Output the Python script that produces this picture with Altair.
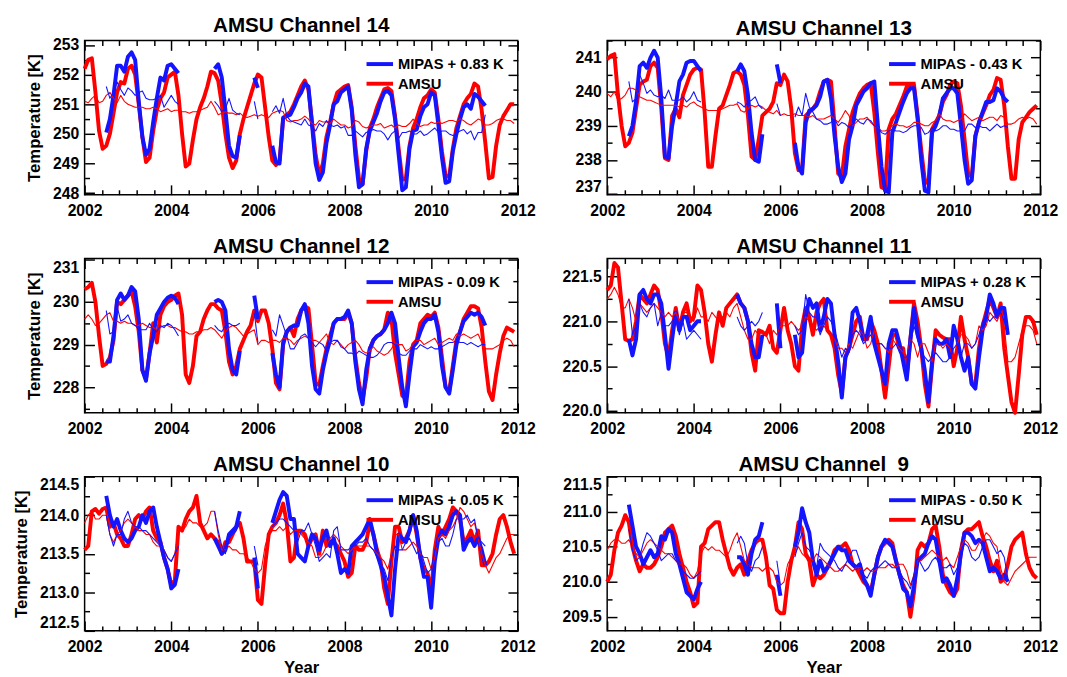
import math
import altair as alt
import pandas as pd

FONT = "Liberation Sans"
BLUE = "#1414ff"
RED = "#ff0000"
START_YEAR = 2002


def gap(n):
    return [None] * n


TITLES = ["AMSU Channel 14", "AMSU Channel 13", "AMSU Channel 12",
          "AMSU Channel 11", "AMSU Channel 10", "AMSU Channel\u00a0 9"]
MIPAS_LABELS = ["MIPAS + 0.83 K", "MIPAS - 0.43 K", "MIPAS - 0.09 K",
                "MIPAS + 0.28 K", "MIPAS + 0.05 K", "MIPAS - 0.50 K"]
AMSU_LABEL = "AMSU"
Y_DOMAINS = [[247.95, 253.15], [236.98, 241.5], [227.4, 231.02],
             [219.98, 221.7], [212.5, 214.5], [209.3, 211.5]]
Y_MAJOR = [1, 1, 1, 0.5, 0.5, 0.5]
Y_MINOR = [0.5, 0.5, 0.5, 0.25, 0.25, 0.25]
X_TICKS = [round(2002 + 0.4 * k, 1) for k in range(26)]

# ---------------- Channel 14 ----------------
CH14_AMSU = [
    252.2, 252.5, 252.55, 251.4, 250.1, 249.5, 249.6, 250.0, 250.7, 251.4, 251.75, 251.7,
    252.2, 252.3, 252.0, 251.0, 249.9, 249.05, 249.2, 250.1, 250.8, 251.2, 251.4, 251.9,
    252.0, 252.1, 251.3, 250.0, 248.9, 249.0, 249.8, 250.5, 250.9, 251.2, 251.6, 252.1,
    252.05, 251.8, 251.0, 250.0, 249.2, 248.85, 249.1, 250.0, 250.5, 250.9, 251.3, 251.7,
    252.0, 251.9, 250.9, 249.9, 249.1, 248.95, 249.1, 250.5, 250.65, 250.75, 251.0, 251.3,
    251.6, 251.8, 251.5, 250.4, 249.3, 248.6, 249.0, 249.9, 250.4, 251.0, 251.4, 251.5,
    251.6, 251.65, 250.9, 249.6, 248.5, 248.3, 249.4, 250.2, 250.5, 250.9, 251.2, 251.5,
    251.55, 251.45, 250.6, 249.5, 248.45, 248.5, 249.6, 250.2, 250.5, 250.9, 251.2, 251.3,
    251.5, 251.4, 250.5, 249.4, 248.6, 248.55, 249.5, 250.2, 250.6, 251.0, 251.2, 251.35,
    251.7, 251.6, 250.8, 249.7, 248.5, 248.55, 249.6, 250.3, 250.6, 250.8, 251.0, 251.0]
CH14_MIPAS = (gap(6) + [
    250.05, 250.5, 251.3, 252.3, 252.3, 252.1, 252.6, 252.75, 252.5, 251.1, 249.9, 249.3,
    249.5, 250.4, 251.2, 251.9, 251.8, 252.3, 252.35, 252.2, 252.05]
    + gap(9) + [252.2, 252.35, 251.9, 250.8, 249.6, 249.25, 249.2, 249.95]
    + gap(3) + [251.9, 251.55] + gap(3) + [
    249.6, 249.05, 249.0, 250.55, 250.6, 250.65, 250.9, 251.2,
    251.4, 251.7, 251.6, 250.3, 249.0, 248.45, 248.7, 249.7, 250.3, 251.0, 251.1, 251.4,
    251.5, 251.6, 250.8, 249.3, 248.2, 248.3, 249.5, 250.1, 250.4, 250.7, 251.1, 251.4,
    251.45, 251.3, 250.5, 249.3, 248.1, 248.2, 249.5, 250.1, 250.15, 250.6, 250.9, 251.0,
    251.4, 251.3, 250.3, 249.2, 248.35, 248.4, 249.4, 250.0, 250.5, 250.9, 251.0, 250.85,
    251.35, 251.25, 251.1, 250.95] + gap(8))
CH14_AMSU_THIN = [
    251.1, 251.05, 251.2, 251.3, 251.05, 251.1, 251.3, 251.4, 251.2, 251.05, 251.3, 251.1,
    251.0, 250.95, 250.9, 250.9, 250.9, 250.85, 250.85, 250.9, 250.85, 250.75, 250.8, 250.85,
    250.75, 250.8, 250.8, 250.75, 250.75, 250.7, 250.75, 250.75, 250.8, 250.85, 250.9, 251.1,
    250.9, 250.65, 250.7, 250.75, 250.7, 250.7, 250.65, 250.7, 250.6, 250.55, 250.6, 250.65,
    250.6, 250.65, 250.6, 250.55, 250.7, 250.75, 250.8, 250.75, 250.45, 250.4, 250.45, 250.45,
    250.5, 250.6, 250.5, 250.35, 250.3, 250.45, 250.4, 250.4, 250.35, 250.5, 250.4, 250.3,
    250.3, 250.2, 250.25, 250.45, 250.4, 250.25, 250.2, 250.25, 250.3, 250.3, 250.35, 250.2,
    250.25, 250.3, 250.2, 250.3, 250.25, 250.25, 250.35, 250.5, 250.35, 250.25, 250.3, 250.3,
    250.4, 250.35, 250.4, 250.35, 250.4, 250.45, 250.45, 250.4, 250.5, 250.45, 250.35, 250.3,
    250.4, 250.5, 250.45, 250.3, 250.3, 250.35, 250.45, 250.5, 250.5, 250.45, 250.45, 250.35]
CH14_MIPAS_THIN = (gap(6) + [
    251.6, 251.2, 251.4, 251.75, 251.5, 251.3, 251.55, 251.45, 251.3, 251.4, 251.45, 251.2,
    251.15, 251.15, 251.2, 251.3, 250.9, 251.1, 251.3, 251.1, 251.0]
    + gap(9) + [251.1, 250.95, 250.75, 250.85, 251.2, 250.8, 250.7, 250.65]
    + gap(3) + [251.1, 250.5] + gap(3) + [
    250.75, 250.95, 250.7, 251.2, 250.6, 250.45, 250.4, 250.35,
    250.3, 250.5, 250.3, 250.25, 250.1, 250.35, 250.25, 250.45, 250.3, 250.25, 250.3, 250.2,
    250.25, 249.95, 249.95, 250.1, 250.0, 249.9, 250.05, 250.1, 250.15, 250.1, 250.1, 250.0,
    249.8, 250.0, 250.1, 249.85, 250.05, 250.05, 250.1, 250.0, 250.0, 250.1, 249.95, 250.0,
    250.1, 250.2, 250.05, 250.1, 250.1, 250.0, 249.95, 250.0, 250.1, 250.15, 250.0, 250.1,
    249.8, 250.05, 250.05, 250.65] + gap(8))

# ---------------- Channel 13 ----------------
CH13_AMSU = [
    240.95, 241.05, 241.1, 239.9, 239.0, 238.4, 238.5, 238.8, 239.5, 240.2, 240.3, 240.35,
    240.75, 240.85, 240.7, 239.5, 238.05, 238.0, 239.3, 239.5, 239.25, 239.9, 240.2, 240.5,
    240.65, 240.7, 240.65, 239.4, 237.8, 237.8, 238.7, 239.5, 239.6, 239.9, 240.2, 240.55,
    240.6, 240.5, 240.2, 239.3, 238.1, 238.0, 238.6, 239.3, 239.4, 239.5, 239.7, 240.25,
    240.2, 240.5, 240.3, 239.5, 238.2, 237.7, 237.75, 239.3, 239.4, 239.5, 239.65, 240.0,
    240.3, 240.35, 240.3, 239.0, 237.6, 237.5, 238.4, 238.9, 239.4, 239.7, 239.95, 240.1,
    240.2, 240.25, 239.4, 238.2, 237.2, 237.15, 238.9, 239.2, 239.35, 239.6, 239.85, 240.15,
    240.2, 240.2, 239.3, 238.3, 237.4, 237.3, 238.9, 239.1, 239.3, 239.7, 239.9, 240.2,
    240.3, 240.25, 239.6, 238.6, 237.6, 237.5, 238.7, 239.1, 239.35, 239.6, 239.9, 240.05,
    240.4, 240.35, 239.6, 238.4, 237.45, 237.45, 238.6, 239.1, 239.25, 239.4, 239.5, 239.6]
CH13_MIPAS = (gap(6) + [
    238.7, 239.0, 239.7, 240.75, 240.85, 240.7, 241.0, 241.2, 241.0, 239.8, 238.1, 238.05,
    239.0, 239.6, 240.3, 240.5, 240.85, 240.9, 240.9, 240.75, 240.6]
    + gap(9) + [240.6, 240.8, 240.6, 239.9, 238.8, 238.0, 237.95, 238.75]
    + gap(3) + [240.8, 240.25] + gap(3) + [
    238.5, 237.8, 237.6, 239.1, 239.45, 239.5, 239.6, 239.85,
    240.3, 240.35, 239.8, 238.7, 237.8, 237.35, 237.6, 238.6, 239.0, 239.6, 239.8, 240.0,
    240.1, 240.25, 240.3, 239.0, 237.8, 237.1, 237.05, 238.8, 239.1, 239.4, 239.7, 239.95,
    240.1, 240.1, 239.2, 238.0, 237.1, 237.05, 238.8, 239.0, 239.3, 239.8, 239.95, 240.1,
    240.1, 239.95, 239.0, 238.0, 237.3, 237.4, 238.7, 239.1, 239.4, 239.7, 239.7, 239.75,
    240.1, 240.0, 239.8, 239.7] + gap(8))
CH13_AMSU_THIN = [
    239.95, 239.85, 240.0, 239.75, 239.8, 239.9, 240.1, 240.1, 240.05, 239.85, 239.8, 239.75,
    239.75, 239.7, 239.65, 239.6, 239.6, 239.6, 239.6, 239.6, 239.55, 239.6, 239.55, 239.65,
    239.7, 239.6, 239.55, 239.5, 239.45, 239.45, 239.45, 239.45, 239.5, 239.55, 239.6, 239.6,
    239.65, 239.45, 239.4, 239.5, 239.6, 239.55, 239.6, 239.55, 239.45, 239.4, 239.35, 239.45,
    239.3, 239.35, 239.3, 239.3, 239.35, 239.3, 239.3, 239.3, 239.25, 239.3, 239.2, 239.2,
    239.2, 239.25, 239.3, 239.2, 239.1, 239.25, 239.45, 239.3, 239.0, 239.1, 239.2, 239.2,
    239.25, 239.1, 239.0, 238.95, 238.85, 238.85, 238.9, 239.0, 239.05, 239.0, 239.0, 238.95,
    239.0, 239.1, 239.1, 239.05, 239.0, 239.0, 239.1, 239.15, 239.35, 239.2, 239.15, 239.15,
    239.1, 239.15, 239.2, 239.35, 239.25, 239.15, 239.2, 239.25, 239.15, 239.2, 239.25, 239.25,
    239.15, 239.3, 239.25, 239.05, 239.05, 239.1, 239.2, 239.25, 239.2, 239.25, 239.2, 239.05]
CH13_MIPAS_THIN = (gap(6) + [
    240.3, 239.7, 239.8, 240.5, 240.25, 239.95, 240.05, 239.9, 239.85, 239.9, 239.8, 240.05,
    239.75, 239.75, 239.75, 239.85, 239.7, 239.8, 240.0, 239.75, 239.7]
    + gap(9) + [239.7, 239.65, 239.55, 239.7, 239.75, 239.85, 239.6, 239.5]
    + gap(3) + [239.65, 239.3] + gap(3) + [
    239.25, 239.55, 239.3, 239.95, 239.55, 239.4, 239.2, 239.15,
    239.05, 239.05, 239.1, 239.2, 239.0, 239.1, 239.05, 238.95, 239.05, 239.2, 239.1, 239.05,
    239.2, 239.15, 239.0, 238.95, 238.8, 238.75, 238.85, 238.9, 238.85, 238.85, 238.8, 238.85,
    238.95, 239.0, 239.0, 238.95, 238.75, 238.8, 238.95, 238.85, 238.9, 239.0, 239.0, 238.9,
    238.9, 238.85, 238.85, 238.85, 239.05, 239.05, 238.95, 239.0, 238.95, 238.95, 238.85, 238.95,
    239.05, 238.95, 239.0, 238.95] + gap(8))

# ---------------- Channel 12 ----------------
CH12_AMSU = [
    230.3, 230.35, 230.45, 230.0, 229.2, 228.5, 228.55, 228.7, 229.1, 230.0, 229.95, 230.05,
    230.15, 230.25, 229.9, 229.3, 228.4, 228.2, 228.8, 229.5, 229.05, 229.7, 229.9, 230.0,
    230.05, 230.15, 230.2, 229.7, 228.3, 228.1, 228.5, 229.2, 229.3, 229.6, 229.8, 229.95,
    229.95, 229.85, 229.8, 229.3, 228.6, 228.3, 228.5, 228.9, 229.1, 229.3, 229.45, 229.8,
    229.55, 229.8, 229.8, 229.5, 228.9, 228.1, 227.95, 229.0, 229.3, 229.4, 229.2, 229.6,
    229.8, 229.9, 229.85, 229.0, 228.1, 228.05, 228.5, 228.9, 229.2, 229.5, 229.6, 229.6,
    229.6, 229.75, 229.5, 228.7, 228.1, 227.7, 228.2, 228.9, 229.1, 229.2, 229.25, 229.35,
    229.75, 229.6, 228.8, 228.3, 227.8, 227.75, 228.6, 229.0, 229.1, 229.5, 229.6, 229.7,
    229.65, 229.75, 229.4, 228.7, 228.0, 227.9, 228.5, 229.1, 229.3, 229.6, 229.75, 229.9,
    229.9, 229.85, 229.4, 228.6, 227.9, 227.7, 228.3, 228.8, 229.2, 229.4, 229.35, 229.3]
CH12_MIPAS = (gap(6) + [
    228.6, 228.6, 229.2, 230.05, 230.2, 230.05, 230.15, 230.35, 230.25, 229.6, 228.4, 228.15,
    228.8, 229.2, 229.7, 229.85, 230.0, 230.1, 230.15, 230.1, 229.95]
    + gap(9) + [230.0, 230.05, 230.0, 229.8, 228.9, 228.4, 228.3, 228.85]
    + gap(3) + [230.15, 229.6] + gap(3) + [
    228.8, 228.3, 228.0, 229.05, 229.3, 229.4, 229.45, 229.45,
    229.8, 229.95, 229.5, 228.5, 227.95, 227.85, 228.4, 228.8, 229.1, 229.5, 229.6, 229.6,
    229.65, 229.8, 229.5, 228.6, 227.95, 227.6, 228.4, 228.9, 229.1, 229.2, 229.25, 229.35,
    229.5, 229.75, 229.5, 228.7, 228.0, 227.55, 228.3, 228.95, 229.05, 229.3, 229.5, 229.6,
    229.6, 229.7, 229.3, 228.5, 228.0, 227.85, 228.4, 229.0, 229.3, 229.55, 229.65, 229.75,
    229.7, 229.75, 229.65, 229.45] + gap(8))
CH12_AMSU_THIN = [
    229.6, 229.7, 229.6, 229.45, 229.5, 229.6, 229.7, 229.75, 229.55, 229.55, 229.5, 229.55,
    229.5, 229.5, 229.45, 229.45, 229.5, 229.45, 229.4, 229.4, 229.35, 229.4, 229.45, 229.45,
    229.4, 229.4, 229.35, 229.3, 229.3, 229.25, 229.25, 229.3, 229.3, 229.35, 229.35, 229.4,
    229.35, 229.25, 229.15, 229.3, 229.4, 229.45, 229.4, 229.3, 229.2, 229.25, 229.3, 229.35,
    229.0, 229.1, 229.1, 229.05, 229.1, 229.1, 229.05, 229.15, 229.15, 229.1, 229.0, 229.1,
    229.15, 229.2, 229.15, 229.1, 229.1, 229.05, 229.15, 229.25, 229.05, 229.0, 229.1, 229.0,
    228.9, 229.0, 229.05, 229.1, 229.0, 228.85, 228.8, 228.85, 228.95, 228.85, 228.8, 228.75,
    228.8, 228.9, 229.05, 229.0, 229.0, 228.85, 228.9, 229.0, 229.1, 229.1, 229.0, 229.05,
    229.1, 229.15, 229.0, 229.05, 229.1, 229.15, 229.1, 229.25, 229.2, 229.25, 229.2, 229.15,
    229.2, 229.25, 229.05, 228.9, 228.9, 228.9, 228.95, 229.0, 229.1, 229.15, 229.1, 228.95]
CH12_MIPAS_THIN = (gap(6) + [
    229.8, 229.25, 229.3, 229.9, 229.55, 229.6, 229.7, 229.5, 229.45, 229.35, 229.35, 229.35,
    229.5, 229.35, 229.3, 229.45, 229.4, 229.5, 229.45, 229.35, 229.2]
    + gap(9) + [229.45, 229.35, 229.3, 229.45, 229.5, 229.45, 229.45, 229.5]
    + gap(3) + [229.75, 229.05] + gap(3) + [
    229.35, 229.2, 229.7, 229.45, 229.2, 228.9, 228.9, 229.05,
    229.2, 229.25, 229.15, 229.05, 228.95, 229.05, 229.0, 228.85, 229.05, 229.1, 229.1, 228.95,
    228.9, 228.8, 228.8, 228.75, 228.85, 228.8, 228.75, 228.7, 228.7, 228.75, 228.85, 229.0,
    229.05, 229.05, 229.0, 228.8, 228.75, 228.75, 228.85, 228.9, 228.9, 229.0, 228.95, 228.9,
    228.95, 228.9, 228.9, 228.95, 229.0, 229.05, 229.05, 229.1, 229.05, 229.05, 229.0, 229.05,
    229.0, 228.95, 229.0, 229.0] + gap(8))

# ---------------- Channel 11 ----------------
CH11_AMSU = [
    221.35, 221.4, 221.65, 221.6, 221.2, 220.8, 220.78, 220.8, 221.0, 221.3, 221.25, 221.2,
    221.3, 221.4, 221.35, 221.1, 220.75, 220.6, 220.9, 221.15, 220.9, 221.1, 221.2, 221.0,
    221.05, 221.4, 221.35, 221.1, 220.75, 220.55, 220.85, 221.1, 220.95, 221.15, 221.2, 221.25,
    221.3, 221.2, 221.15, 221.0, 220.65, 220.45, 220.9, 220.88, 220.85, 220.95, 220.7, 220.65,
    220.9, 221.15, 220.9, 220.75, 220.5, 220.45, 220.95, 221.15, 221.05, 220.85, 221.1, 221.2,
    221.25, 220.9, 220.85, 220.7, 220.4, 220.2, 220.6, 220.7, 220.85, 221.0, 221.05, 220.8,
    220.8, 221.0, 220.9, 220.75, 220.45, 220.15, 220.5, 220.85, 220.85, 220.7, 220.7, 220.4,
    220.8, 221.2, 221.0, 220.7, 220.3, 220.05, 220.5, 220.9, 220.85, 220.82, 220.8, 220.8,
    220.5, 220.7, 221.05, 220.8, 220.6, 220.3, 220.3, 220.7, 220.95, 221.1, 221.25, 221.15,
    221.05, 221.2, 220.7, 220.4, 220.1, 219.98, 220.4, 220.85, 221.05, 221.05, 221.0, 220.85]
CH11_MIPAS = (gap(6) + [
    220.8, 220.62, 220.8, 221.3, 221.35, 221.25, 221.2, 221.3, 221.3, 221.2, 220.85, 220.47,
    220.8, 221.1, 220.9, 221.05, 221.05, 220.9, 220.95, 221.0, 221.0]
    + gap(9) + [221.3, 221.2, 221.15, 221.0, 220.75, 220.6, 220.6, 220.85]
    + gap(3) + [221.2, 220.7] + gap(3) + [
    220.85, 220.6, 220.65, 221.05, 221.25, 221.15, 221.2, 220.9,
    221.05, 221.25, 221.2, 220.85, 220.55, 220.15, 220.6, 220.7, 221.1, 221.15, 221.0, 220.8,
    220.85, 221.05, 220.75, 220.6, 220.45, 220.3, 220.75, 220.9, 220.9, 220.75, 220.55, 220.35,
    220.8, 221.15, 220.85, 220.7, 220.45, 220.1, 220.55, 220.8, 220.75, 220.75, 220.8, 220.6,
    220.95, 220.8, 220.6, 220.45, 220.6, 220.3, 220.25, 220.6, 220.9, 221.05, 221.3, 221.2,
    221.05, 221.15, 221.15, 220.85] + gap(8))
CH11_AMSU_THIN = [
    221.25, 221.3, 221.38, 221.3, 221.15, 221.15, 221.25, 221.15, 221.0, 221.2, 221.15, 221.1,
    221.15, 221.2, 221.15, 221.1, 221.05, 221.1, 221.05, 221.1, 221.0, 221.1, 221.1, 221.05,
    221.0, 221.15, 221.05, 221.05, 221.0, 221.1, 221.05, 221.0, 221.05, 221.1, 221.05, 221.15,
    221.2, 221.05, 220.9, 220.8, 220.8, 220.9, 220.85, 220.9, 220.85, 220.75, 220.9, 220.85,
    220.95, 220.95, 220.95, 221.0, 220.95, 220.9, 220.95, 221.05, 221.0, 220.95, 220.9, 220.95,
    220.95, 220.9, 220.85, 220.8, 220.7, 220.7, 220.65, 220.75, 220.7, 220.8, 220.9, 220.85,
    220.7, 220.75, 220.9, 220.75, 220.75, 220.7, 220.65, 220.8, 220.75, 220.7, 220.65, 220.6,
    220.8, 220.75, 220.6, 220.75, 220.75, 220.65, 220.55, 220.75, 220.75, 220.7, 220.75, 220.7,
    220.55, 220.75, 220.85, 220.85, 220.8, 220.7, 220.75, 220.95, 220.9, 220.95, 221.1, 221.05,
    221.0, 221.1, 220.95, 220.55, 220.55, 220.6, 220.75, 220.9, 220.95, 220.95, 220.9, 220.75]
CH11_MIPAS_THIN = (gap(6) + [
    221.25, 220.85, 220.95, 221.2, 221.1, 221.05, 221.15, 221.2, 220.95, 221.1, 220.95, 220.95,
    221.0, 221.05, 220.85, 221.0, 220.8, 220.85, 220.9, 220.85, 220.8]
    + gap(9) + [221.05, 220.95, 220.9, 220.95, 221.0, 220.95, 221.0, 221.1]
    + gap(3) + [221.05, 220.85] + gap(3) + [
    220.95, 220.85, 220.9, 221.3, 221.1, 221.05, 221.05, 220.85,
    220.95, 221.05, 221.0, 220.9, 220.75, 220.6, 220.7, 220.65, 220.85, 220.9, 220.85, 220.75,
    220.8, 220.85, 220.75, 220.75, 220.75, 220.7, 220.7, 220.7, 220.75, 220.65, 220.6, 220.6,
    220.75, 220.95, 220.8, 220.65, 220.6, 220.55, 220.6, 220.65, 220.6, 220.55, 220.55, 220.6,
    220.7, 220.75, 220.6, 220.75, 220.75, 220.7, 220.75, 220.85, 221.0, 221.05, 221.0, 221.05,
    221.05, 221.1, 221.0, 220.85] + gap(8))

# ---------------- Channel 10 ----------------
CH10_AMSU = [
    213.55, 213.6, 214.05, 214.08, 214.02, 214.08, 214.1, 213.85, 213.9, 213.75, 213.7, 213.6,
    213.6, 213.75, 213.95, 214.0, 213.95, 214.05, 214.1, 213.8, 213.7, 213.65, 213.45, 213.3,
    213.1, 213.15, 213.85, 213.8, 213.95, 214.05, 214.1, 214.25, 213.9, 213.8, 213.7, 213.75,
    213.7, 213.65, 213.5, 213.65, 213.65, 213.75, 213.85, 213.9, 213.7, 213.4, 213.4, 213.4,
    212.9, 212.85, 213.35, 213.75, 213.85, 213.9, 214.0, 214.15, 213.9, 213.4, 213.45, 213.8,
    213.8, 213.75, 213.6, 213.7, 213.75, 213.5, 213.8, 213.6, 213.65, 213.65, 213.6, 213.5,
    213.4, 213.2, 213.25, 213.6, 213.55, 213.55, 213.65, 213.9, 213.75, 213.55, 213.4, 213.05,
    212.85, 213.4, 213.85, 213.85, 213.65, 213.7, 213.8, 214.0, 213.75, 213.45, 213.3, 213.25,
    213.0, 213.55, 213.85, 213.75, 213.85, 213.95, 214.1, 214.05, 213.95, 213.65, 213.7, 213.8,
    213.65, 213.8, 213.35, 213.35, 213.4, 213.5, 213.75, 213.95, 214.0, 213.85, 213.65, 213.5]
CH10_MIPAS = (gap(6) + [
    214.25, 214.0, 213.85, 213.95, 213.8, 213.7, 213.65, 213.7, 213.8, 213.85, 214.0, 213.9,
    214.05, 214.1, 213.85, 213.65, 213.45, 213.3, 213.05, 213.1, 213.3]
    + gap(9) + [213.7, 213.6, 213.5, 213.55, 213.75, 213.8, 213.85, 214.05]
    + gap(3) + [213.45, 213.05] + gap(3) + [
    213.9, 214.05, 214.2, 214.3, 214.25, 213.95, 213.95, 213.5,
    213.45, 213.4, 213.6, 213.75, 213.7, 213.55, 213.7, 213.8, 213.6, 213.7, 213.5, 213.25,
    213.3, 213.25, 213.6, 213.65, 213.7, 213.75, 213.85, 213.95, 213.75, 213.5, 213.35, 213.2,
    212.95, 212.7, 213.3, 213.75, 213.7, 213.65, 213.8, 214.0, 213.8, 213.45, 213.2, 213.2,
    212.8, 213.4, 213.7, 213.8, 213.75, 213.85, 214.0, 214.05, 214.0, 213.55, 213.65, 213.7,
    213.6, 213.7, 213.55, 213.35] + gap(8))
CH10_AMSU_THIN = [
    213.9, 214.0, 214.05, 213.95, 213.95, 214.0, 214.0, 213.75, 213.65, 213.75, 213.8, 213.9,
    213.95, 213.9, 213.85, 213.8, 213.8, 213.75, 213.75, 213.65, 213.6, 213.6, 213.55, 213.45,
    213.4, 213.5, 213.8, 213.8, 213.85, 213.95, 213.9, 213.9, 213.85, 213.85, 213.9, 214.05,
    214.05, 213.75, 213.55, 213.55, 213.6, 213.55, 213.55, 213.5, 213.5, 213.45, 213.4, 213.3,
    213.25, 213.3, 213.6, 213.75, 213.8, 213.8, 213.85, 213.8, 213.85, 213.75, 213.8, 213.8,
    213.75, 213.7, 213.65, 213.6, 213.45, 213.45, 213.5, 213.6, 213.7, 213.75, 213.7, 213.6,
    213.55, 213.5, 213.55, 213.6, 213.6, 213.6, 213.6, 213.6, 213.55, 213.5, 213.45, 213.4,
    213.3, 213.5, 213.75, 213.75, 213.55, 213.55, 213.6, 213.65, 213.6, 213.5, 213.45, 213.45,
    213.3, 213.45, 213.7, 213.75, 213.7, 213.8, 213.85, 213.95, 214.1, 214.05, 213.95, 213.85,
    213.9, 213.7, 213.5, 213.35, 213.25, 213.35, 213.45, 213.5, 213.6, 213.7, 213.75, 213.75]
CH10_MIPAS_THIN = (gap(6) + [
    214.0, 213.75, 213.6, 213.75, 213.75, 213.95, 214.05, 213.9, 213.85, 213.85, 213.8, 213.8,
    213.75, 213.7, 213.65, 213.6, 213.55, 213.45, 213.4, 213.5, 213.6]
    + gap(9) + [214.05, 213.8, 213.6, 213.5, 213.7, 213.75, 213.8, 213.9]
    + gap(3) + [213.6, 213.35] + gap(3) + [
    213.85, 213.9, 213.95, 213.95, 213.9, 213.85, 213.8, 213.65,
    213.8, 213.8, 213.9, 213.75, 213.6, 213.4, 213.45, 213.5, 213.45, 213.8, 213.85, 213.55,
    213.55, 213.55, 213.6, 213.6, 213.65, 213.65, 213.7, 213.6, 213.55, 213.45, 213.35, 213.3,
    213.15, 213.45, 213.6, 213.55, 213.55, 213.65, 213.7, 213.6, 213.5, 213.55, 213.4, 213.25,
    213.3, 213.55, 213.65, 213.7, 213.6, 213.6, 213.75, 213.95, 213.95, 213.95, 214.0, 213.9,
    213.95, 213.7, 213.65, 213.6] + gap(8))

# ---------------- Channel 9 ----------------
CH9_AMSU = [
    210.0, 210.1, 210.45, 210.7, 210.8, 210.95, 210.85, 210.5, 210.3, 210.15, 210.25, 210.2,
    210.2, 210.25, 210.35, 210.5, 210.7, 210.75, 210.8, 210.65, 210.4, 210.2, 210.0, 209.85,
    209.65, 209.7, 210.5, 210.55, 210.75, 210.8, 210.85, 210.85, 210.6, 210.4, 210.2, 210.1,
    210.2, 210.25, 210.1, 210.3, 210.45, 210.55, 210.6, 210.6, 210.35, 209.95, 209.9, 209.6,
    209.55, 209.55, 210.0, 210.3, 210.5, 210.85, 210.75, 210.4, 210.3, 209.95, 210.1, 210.05,
    210.1, 210.2, 210.3, 210.45, 210.5, 210.5, 210.55, 210.45, 210.25, 210.2, 210.1, 210.0,
    209.95, 209.85, 210.1, 210.35, 210.5, 210.55, 210.6, 210.55, 210.3, 210.1, 209.95, 209.85,
    209.5, 209.85, 210.45, 210.55, 210.5, 210.55, 210.75, 210.8, 210.5, 210.1, 209.95, 209.85,
    209.8, 209.9, 210.45, 210.7, 210.75, 210.75, 210.8, 210.85, 210.65, 210.5, 210.3, 210.15,
    210.3, 210.0, 210.05, 210.25, 210.5, 210.6, 210.65, 210.7, 210.4, 210.2, 210.1, 210.05]
CH9_MIPAS = (gap(6) + [
    211.1, 210.8, 210.5, 210.4, 210.25, 210.35, 210.45, 210.35, 210.4, 210.65, 210.6, 210.75,
    210.7, 210.4, 210.25, 210.05, 209.85, 209.8, 209.75, 209.9, 210.0]
    + gap(9) + [210.35, 210.35, 210.25, 210.1, 210.4, 210.6, 210.65, 210.85]
    + gap(3) + [210.1, 209.8] + gap(3) + [
    210.5, 210.7, 211.05, 210.85, 210.7, 210.3, 210.1, 210.3,
    210.15, 210.2, 210.3, 210.4, 210.5, 210.45, 210.45, 210.3, 210.25, 210.2, 210.25, 210.05,
    209.95, 209.8, 210.1, 210.35, 210.5, 210.6, 210.55, 210.5, 210.3, 210.1, 209.9, 209.85,
    209.65, 209.95, 210.3, 210.35, 210.4, 210.55, 210.65, 210.6, 210.3, 210.0, 210.05, 209.95,
    209.8, 210.05, 210.4, 210.7, 210.7, 210.65, 210.55, 210.6, 210.55, 210.35, 210.15, 210.2,
    210.15, 210.05, 210.1, 210.0] + gap(8))
CH9_AMSU_THIN = [
    210.45, 210.55, 210.6, 210.6, 210.55, 210.55, 210.6, 210.5, 210.4, 210.35, 210.45, 210.55,
    210.6, 210.55, 210.5, 210.45, 210.4, 210.4, 210.35, 210.3, 210.25, 210.25, 210.2, 210.1,
    210.05, 210.15, 210.4, 210.5, 210.45, 210.5, 210.45, 210.45, 210.4, 210.35, 210.45, 210.6,
    210.7, 210.5, 210.3, 210.25, 210.2, 210.2, 210.2, 210.15, 210.2, 210.2, 210.15, 210.0,
    209.95, 210.0, 210.25, 210.35, 210.4, 210.5, 210.4, 210.35, 210.35, 210.3, 210.4, 210.35,
    210.3, 210.25, 210.2, 210.15, 210.15, 210.2, 210.25, 210.2, 210.15, 210.2, 210.2, 210.15,
    210.2, 210.15, 210.15, 210.2, 210.2, 210.2, 210.25, 210.25, 210.2, 210.25, 210.25, 210.15,
    209.95, 210.1, 210.3, 210.3, 210.35, 210.4, 210.45, 210.4, 210.35, 210.3, 210.35, 210.25,
    210.2, 210.35, 210.5, 210.6, 210.55, 210.45, 210.45, 210.55, 210.6, 210.7, 210.65, 210.55,
    210.5, 210.2, 210.0, 209.95, 210.05, 210.15, 210.2, 210.25, 210.3, 210.35, 210.35, 210.35]
CH9_MIPAS_THIN = (gap(6) + [
    210.75, 210.45, 210.3, 210.35, 210.55, 210.7, 210.65, 210.55, 210.45, 210.3, 210.35, 210.4,
    210.4, 210.3, 210.25, 210.15, 210.1, 210.05, 210.05, 210.1, 210.15]
    + gap(9) + [210.55, 210.65, 210.55, 210.25, 210.15, 210.3, 210.35, 210.5]
    + gap(3) + [210.3, 209.95] + gap(3) + [
    210.35, 210.55, 210.7, 210.5, 210.45, 210.35, 210.2, 210.55,
    210.45, 210.4, 210.35, 210.3, 210.2, 210.15, 210.25, 210.35, 210.45, 210.45, 210.3, 210.1,
    210.05, 210.15, 210.2, 210.2, 210.25, 210.3, 210.25, 210.2, 210.2, 210.15, 210.05, 210.0,
    209.9, 210.1, 210.35, 210.25, 210.15, 210.2, 210.3, 210.35, 210.25, 210.2, 210.2, 210.25,
    210.1, 210.2, 210.35, 210.55, 210.5, 210.35, 210.3, 210.35, 210.5, 210.6, 210.6, 210.5,
    210.4, 210.45, 210.35, 210.05] + gap(8))

PANELS = [
    (CH14_AMSU, CH14_MIPAS, CH14_AMSU_THIN, CH14_MIPAS_THIN),
    (CH13_AMSU, CH13_MIPAS, CH13_AMSU_THIN, CH13_MIPAS_THIN),
    (CH12_AMSU, CH12_MIPAS, CH12_AMSU_THIN, CH12_MIPAS_THIN),
    (CH11_AMSU, CH11_MIPAS, CH11_AMSU_THIN, CH11_MIPAS_THIN),
    (CH10_AMSU, CH10_MIPAS, CH10_AMSU_THIN, CH10_MIPAS_THIN),
    (CH9_AMSU, CH9_MIPAS, CH9_AMSU_THIN, CH9_MIPAS_THIN),
]
for p in PANELS:
    for s in p:
        assert len(s) == 120, len(s)


def to_frame(series):
    rows = []
    for name, vals in series:
        seg = 0
        broken = True
        for i, v in enumerate(vals):
            if v is None:
                broken = True
                continue
            if broken:
                seg += 1
                broken = False
            rows.append({"t": START_YEAR + i / 12.0, "value": v,
                         "series": name, "seg": seg})
    return pd.DataFrame(rows)


def make_panel(k):
    amsu, mipas, amsu_thin, mipas_thin = PANELS[k]
    df = to_frame([("amsu", amsu), ("mipas", mipas),
                   ("amsu_thin", amsu_thin), ("mipas_thin", mipas_thin)])
    lo, hi = Y_DOMAINS[k]
    maj, mnr = Y_MAJOR[k], Y_MINOR[k]
    yvals = [round(j * mnr, 4) for j in
             range(math.ceil(lo / mnr - 1e-9), math.floor(hi / mnr + 1e-9) + 1)]
    fmt = "d" if maj >= 1 else ".1f"
    ymaj = f"abs(datum.value / {maj} - round(datum.value / {maj})) < 0.001"
    xmaj = "abs(datum.value / 2 - round(datum.value / 2)) < 0.001"
    ytick = {"expr": f"{ymaj} ? -10 : -5"}
    xtick = {"expr": f"{xmaj} ? -10 : -5"}
    left = (k % 2 == 0)
    bottom = (k >= 4)

    xscale = alt.Scale(domain=[2002, 2012], nice=False, zero=False)
    yscale = alt.Scale(domain=[lo, hi], nice=False, zero=False)

    x_main = alt.Axis(values=X_TICKS, tickSize=xtick, labelPadding=18,
                      labelExpr=f"{xmaj} ? format(datum.value, 'd') : ''",
                      labelFlush=False, labelOverlap=False, domain=False, grid=False,
                      title="Year" if bottom else None, titlePadding=0)
    y_main = alt.Axis(values=yvals, tickSize=ytick, labelPadding=16,
                      labelExpr=f"{ymaj} ? format(datum.value, '{fmt}') : ''",
                      labelFlush=True, labelOverlap=False, domain=False, grid=False,
                      title="Temperature [K]" if left else None, titlePadding=9)
    x_top = alt.Axis(orient="top", values=X_TICKS, tickSize=xtick, labels=False,
                     domain=False, grid=False, title=None)
    y_right = alt.Axis(orient="right", values=yvals, tickSize=ytick, labels=False,
                       domain=False, grid=False, title=None)

    base = alt.Chart(df)

    def line(name, color, width, xaxis, yaxis):
        return base.transform_filter(f"datum.series == '{name}'").mark_line(
            color=color, strokeWidth=width, strokeJoin="round"
        ).encode(
            x=alt.X("t:Q", scale=xscale, axis=xaxis),
            y=alt.Y("value:Q", scale=yscale, axis=yaxis),
            detail="seg:N",
        )

    red_thick = line("amsu", RED, 4, x_main, y_main)
    blue_thick = line("mipas", BLUE, 4, None, None)
    red_thin = line("amsu_thin", RED, 1.1, None, None)
    blue_thin = line("mipas_thin", BLUE, 1.1, x_top, y_right)

    def legend_entry(label, color, ypos):
        d = pd.DataFrame({"label": [label]})
        sw = alt.Chart(d).mark_rule(color=color, strokeWidth=4).encode(
            x=alt.value(287), x2=alt.value(314), y=alt.value(ypos))
        tx = alt.Chart(d).mark_text(align="left", baseline="middle", font=FONT,
                                    fontSize=15, fontWeight="bold", color="black").encode(
            x=alt.value(319), y=alt.value(ypos), text="label:N")
        return [sw, tx]

    legend = legend_entry(MIPAS_LABELS[k], BLUE, 24) + legend_entry(AMSU_LABEL, RED, 44)

    return alt.layer(red_thick, blue_thick, red_thin, blue_thin, *legend).resolve_axis(
        x="independent", y="independent"
    ).properties(width=441, height=157, title=alt.Title(TITLES[k]))


panels = [make_panel(k) for k in range(6)]

chart = alt.concat(
    *panels, columns=2,
    spacing={"row": 11, "column": 25},
    align={"row": "each", "column": "all"},
).resolve_scale(x="independent", y="independent").properties(
    padding={"left": 4, "top": 0, "right": 0, "bottom": 0}
).configure(
    font=FONT
).configure_view(
    stroke="black", strokeWidth=1.5
).configure_axis(
    labelFont=FONT, labelFontSize=16, labelFontWeight="bold", labelColor="black",
    titleFont=FONT, titleFontSize=17, titleFontWeight="bold", titleColor="black",
    tickColor="black", tickWidth=1.5,
).configure_title(
    font=FONT, fontSize=21, fontWeight="bold", color="black", anchor="middle", offset=1
)

chart.save("out.html", embed_options={"renderer": "svg", "actions": False})
